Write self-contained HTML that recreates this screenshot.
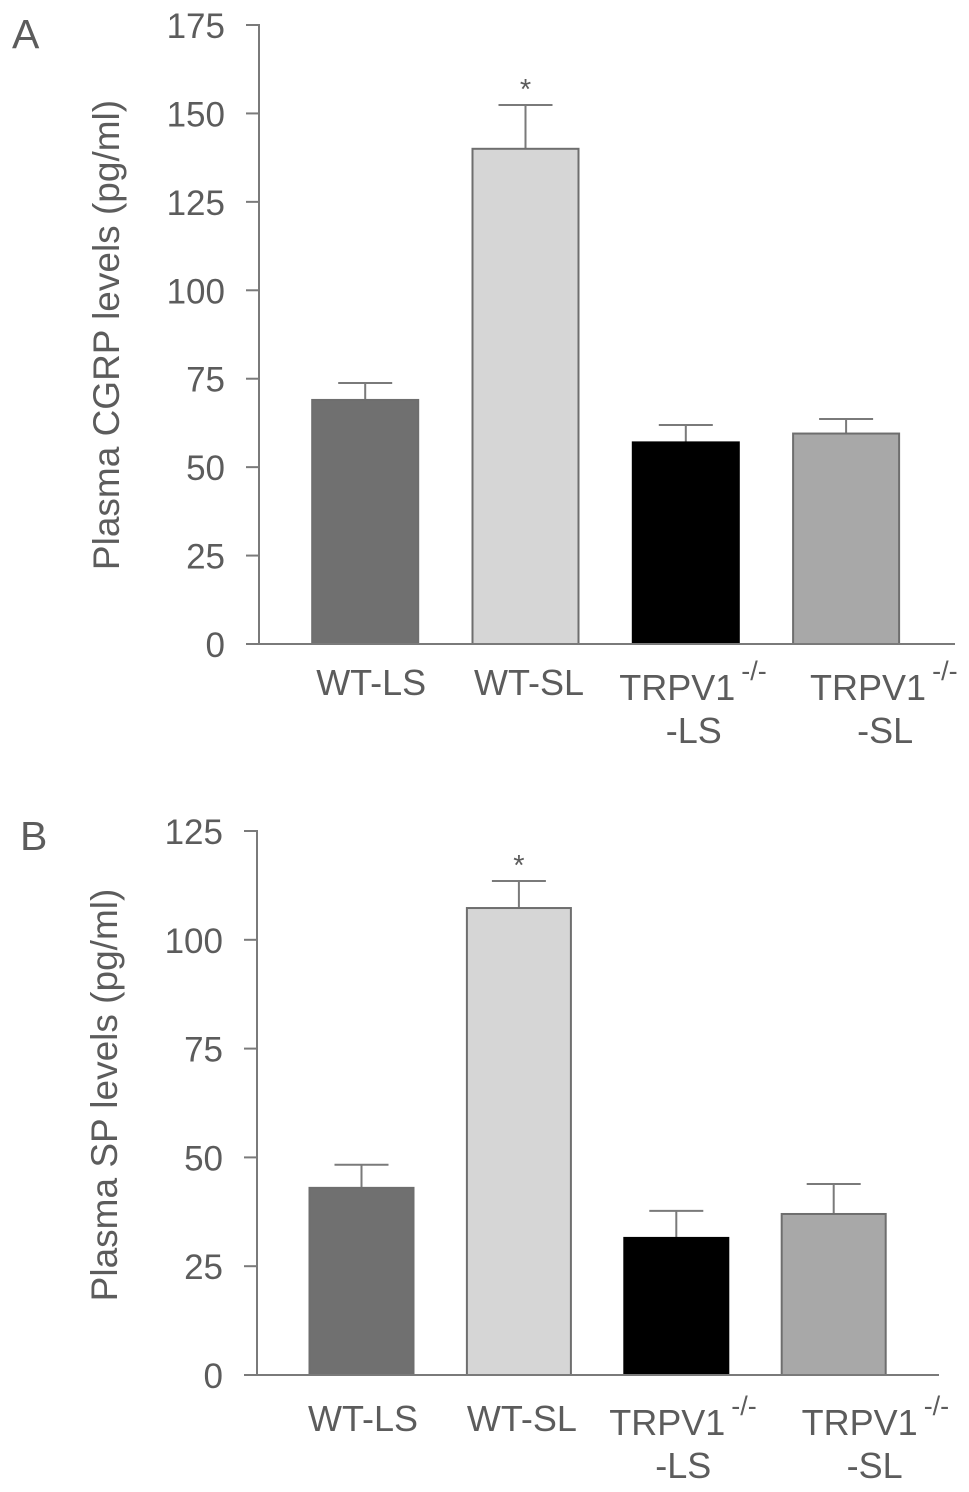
<!DOCTYPE html>
<html lang="en">
<head>
<meta charset="utf-8">
<title>Plasma CGRP and SP levels</title>
<style>
  html, body { margin: 0; padding: 0; background: #fff; }
  svg { display: block; }
  text { font-family: "Liberation Sans", sans-serif; fill: #5c5c5c; }
</style>
</head>
<body>
<svg id="figure" xmlns="http://www.w3.org/2000/svg" width="969" height="1492" viewBox="0 0 969 1492"></svg>
<script>
const categoriesA = [
  ["WT-LS", "", ""],
  ["WT-SL", "", ""],
  ["TRPV1", "-/-", "-LS"],
  ["TRPV1", "-/-", "-SL"]
];
const valuesA = [69, 140, 57, 59.5];
const errorTopsA = [73.8, 152.4, 61.9, 63.6];
const ticksA = [0, 25, 50, 75, 100, 125, 150, 175];
const significantA = [false, true, false, false];

const categoriesB = [
  ["WT-LS", "", ""],
  ["WT-SL", "", ""],
  ["TRPV1", "-/-", "-LS"],
  ["TRPV1", "-/-", "-SL"]
];
const valuesB = [43, 107.3, 31.5, 37];
const errorTopsB = [48.3, 113.5, 37.7, 43.9];
const ticksB = [0, 25, 50, 75, 100, 125];
const significantB = [false, true, false, false];

const barFills = ["#707070", "#d6d6d6", "#000000", "#a8a8a8"];

const svg = document.getElementById("figure");
const NS = "http://www.w3.org/2000/svg";

function make(tag, attrs, text) {
  const el = document.createElementNS(NS, tag);
  for (const k in attrs) el.setAttribute(k, attrs[k]);
  if (text !== undefined) el.textContent = text;
  return el;
}

function drawPanel(p) {
  const g = make("g", {});
  
  
  svg.appendChild(g);

  const yScale = v => p.y0 - (v / p.yMax) * (p.y0 - p.yTop);
  const xCenter = i => p.x0 + p.step * i;

  const letter = make("text", { x: p.letterX, y: p.letterY, "font-size": 41 }, p.id);
  
  
  g.appendChild(letter);

  const title = make("text", {
    transform: "translate(" + p.titleX + "," + p.titleY + ") rotate(-90)",
    "text-anchor": "middle", "font-size": p.titleSize
  }, p.title);
  
  
  g.appendChild(title);

  p.ticks.forEach(t => {
    const y = yScale(t);
    const tick = make("line", { x1: p.axisX - 13, x2: p.axisX, y1: y, y2: y, stroke: "#7a7a7a", "stroke-width": 2 });
    
    
    g.appendChild(tick);
    const label = make("text", { x: p.axisX - 34, y: y + 13, "text-anchor": "end", "font-size": 35 }, String(t));
    
    
    g.appendChild(label);
  });

  p.values.forEach((v, i) => {
    const cx = xCenter(i);
    const errLine = make("line", { x1: cx, x2: cx, y1: yScale(p.errors[i]), y2: yScale(v), stroke: "#7a7a7a", "stroke-width": 2 });
    
    
    g.appendChild(errLine);
    const cap = make("line", { x1: cx - 27, x2: cx + 27, y1: yScale(p.errors[i]), y2: yScale(p.errors[i]), stroke: "#7a7a7a", "stroke-width": 2 });
    
    
    g.appendChild(cap);
    const bar = make("rect", {
      x: cx - p.barW / 2, y: yScale(v), width: p.barW, height: p.y0 - yScale(v),
      fill: barFills[i], stroke: i === 2 ? "#000" : "#6e6e6e", "stroke-width": 2
    });
    
    
    g.appendChild(bar);

    if (p.sig[i]) {
      const star = make("text", { x: cx, y: yScale(p.errors[i]) - 6, "text-anchor": "middle", "font-size": 29 }, "*");
      
      
      g.appendChild(star);
    }

    const cat = p.categories[i];
    const off = p.labelOffsets[i];
    const baseY = cat[1] ? p.labelY2 : p.labelY1;
    const main = make("text", { x: cx + off, y: baseY, "text-anchor": cat[1] ? "end" : "middle", "font-size": 36 }, cat[0]);
    
    
    g.appendChild(main);
    if (cat[1]) {
      const sup = make("text", { x: cx + off + 6, y: baseY - 20, "font-size": 27 }, cat[1]);
      
      
      g.appendChild(sup);
      const second = make("text", { x: cx + p.secondOffsets[i], y: p.labelY3, "text-anchor": "middle", "font-size": 36 }, cat[2]);
      
      
      g.appendChild(second);
    }
  });

  const yAxis = make("line", { x1: p.axisX, x2: p.axisX, y1: p.yTop - 1, y2: p.y0 + 1, stroke: "#7a7a7a", "stroke-width": 2 });
  
  
  g.appendChild(yAxis);
  const xAxis = make("line", { x1: p.axisX - 13, x2: p.xEnd, y1: p.y0, y2: p.y0, stroke: "#7a7a7a", "stroke-width": 2 });
  
  
  g.appendChild(xAxis);
}

drawPanel({
  id: "A", title: "Plasma CGRP levels (pg/ml)", titleX: 119, titleY: 335, titleSize: 37,
  letterX: 12, letterY: 48,
  axisX: 259, xEnd: 955, yTop: 25, y0: 644, yMax: 175,
  x0: 365.2, step: 160.3, barW: 106,
  values: valuesA, errors: errorTopsA, ticks: ticksA, sig: significantA, categories: categoriesA,
  labelOffsets: [6, 3.5, 49.5, 80], secondOffsets: [0, 0, 8, 39],
  labelY1: 695, labelY2: 700, labelY3: 743
});

drawPanel({
  id: "B", title: "Plasma SP levels (pg/ml)", titleX: 117, titleY: 1095, titleSize: 37,
  letterX: 20, letterY: 850,
  axisX: 257, xEnd: 939, yTop: 831, y0: 1375, yMax: 125,
  x0: 361.5, step: 157.4, barW: 104,
  values: valuesB, errors: errorTopsB, ticks: ticksB, sig: significantB, categories: categoriesB,
  labelOffsets: [1.5, 3, 49, 84], secondOffsets: [0, 0, 7, 41],
  labelY1: 1431, labelY2: 1435, labelY3: 1478
});
</script>
</body>
</html>
